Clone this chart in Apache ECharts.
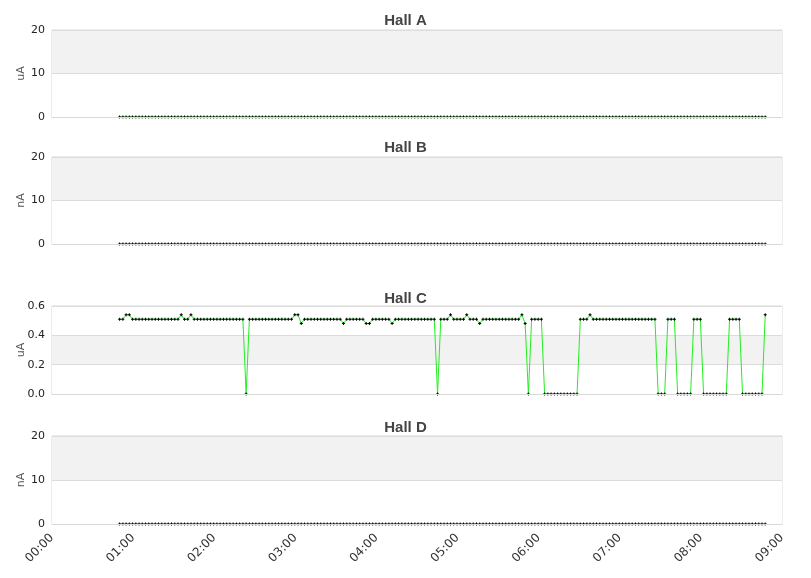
<!DOCTYPE html>
<html><head><meta charset="utf-8">
<script src="https://cdn.jsdelivr.net/npm/echarts@6/dist/echarts.min.js"></script>
<style>html,body{margin:0;padding:0;background:#fff}#c{width:811px;height:578px}</style>
</head><body><div id="c"></div>
<script>
// time sampling (minutes after 00:00)
const startMinute = 50;
const stepMinutes = 2.4;
const xTickLabels = ['00:00','01:00','02:00','03:00','04:00','05:00','06:00','07:00','08:00','09:00'];
const hallNames = ['Hall A','Hall B','Hall C','Hall D'];
const hallUnits = ['uA','nA','uA','nA'];

const hallAValues = [0,0,0,0,0,0,0,0,0,0, 0,0,0,0,0,0,0,0,0,0, 0,0,0,0,0,0,0,0,0,0, 0,0,0,0,0,0,0,0,0,0,
0,0,0,0,0,0,0,0,0,0, 0,0,0,0,0,0,0,0,0,0, 0,0,0,0,0,0,0,0,0,0, 0,0,0,0,0,0,0,0,0,0,
0,0,0,0,0,0,0,0,0,0, 0,0,0,0,0,0,0,0,0,0, 0,0,0,0,0,0,0,0,0,0, 0,0,0,0,0,0,0,0,0,0,
0,0,0,0,0,0,0,0,0,0, 0,0,0,0,0,0,0,0,0,0, 0,0,0,0,0,0,0,0,0,0, 0,0,0,0,0,0,0,0,0,0,
0,0,0,0,0,0,0,0,0,0, 0,0,0,0,0,0,0,0,0,0, 0,0,0,0,0,0,0,0,0,0, 0,0,0,0,0,0,0,0,0,0];
const hallBValues = [0,0,0,0,0,0,0,0,0,0, 0,0,0,0,0,0,0,0,0,0, 0,0,0,0,0,0,0,0,0,0, 0,0,0,0,0,0,0,0,0,0,
0,0,0,0,0,0,0,0,0,0, 0,0,0,0,0,0,0,0,0,0, 0,0,0,0,0,0,0,0,0,0, 0,0,0,0,0,0,0,0,0,0,
0,0,0,0,0,0,0,0,0,0, 0,0,0,0,0,0,0,0,0,0, 0,0,0,0,0,0,0,0,0,0, 0,0,0,0,0,0,0,0,0,0,
0,0,0,0,0,0,0,0,0,0, 0,0,0,0,0,0,0,0,0,0, 0,0,0,0,0,0,0,0,0,0, 0,0,0,0,0,0,0,0,0,0,
0,0,0,0,0,0,0,0,0,0, 0,0,0,0,0,0,0,0,0,0, 0,0,0,0,0,0,0,0,0,0, 0,0,0,0,0,0,0,0,0,0];
const hallCValues = [
0.51,0.51,0.54,0.54,0.51,0.51,0.51,0.51,0.51,0.51,
0.51,0.51,0.51,0.51,0.51,0.51,0.51,0.51,0.51,0.54,
0.51,0.51,0.54,0.51,0.51,0.51,0.51,0.51,0.51,0.51,
0.51,0.51,0.51,0.51,0.51,0.51,0.51,0.51,0.51,0,
0.51,0.51,0.51,0.51,0.51,0.51,0.51,0.51,0.51,0.51,
0.51,0.51,0.51,0.51,0.54,0.54,0.48,0.51,0.51,0.51,
0.51,0.51,0.51,0.51,0.51,0.51,0.51,0.51,0.51,0.48,
0.51,0.51,0.51,0.51,0.51,0.51,0.48,0.48,0.51,0.51,
0.51,0.51,0.51,0.51,0.48,0.51,0.51,0.51,0.51,0.51,
0.51,0.51,0.51,0.51,0.51,0.51,0.51,0.51,0,0.51,
0.51,0.51,0.54,0.51,0.51,0.51,0.51,0.54,0.51,0.51,
0.51,0.48,0.51,0.51,0.51,0.51,0.51,0.51,0.51,0.51,
0.51,0.51,0.51,0.51,0.54,0.48,0,0.51,0.51,0.51,
0.51,0,0,0,0,0,0,0,0,0,
0,0,0.51,0.51,0.51,0.54,0.51,0.51,0.51,0.51,
0.51,0.51,0.51,0.51,0.51,0.51,0.51,0.51,0.51,0.51,
0.51,0.51,0.51,0.51,0.51,0.51,0,0,0,0.51,
0.51,0.51,0,0,0,0,0,0.51,0.51,0.51,
0,0,0,0,0,0,0,0,0.51,0.51,
0.51,0.51,0,0,0,0,0,0,0,0.54];
const hallDValues = [0,0,0,0,0,0,0,0,0,0, 0,0,0,0,0,0,0,0,0,0, 0,0,0,0,0,0,0,0,0,0, 0,0,0,0,0,0,0,0,0,0,
0,0,0,0,0,0,0,0,0,0, 0,0,0,0,0,0,0,0,0,0, 0,0,0,0,0,0,0,0,0,0, 0,0,0,0,0,0,0,0,0,0,
0,0,0,0,0,0,0,0,0,0, 0,0,0,0,0,0,0,0,0,0, 0,0,0,0,0,0,0,0,0,0, 0,0,0,0,0,0,0,0,0,0,
0,0,0,0,0,0,0,0,0,0, 0,0,0,0,0,0,0,0,0,0, 0,0,0,0,0,0,0,0,0,0, 0,0,0,0,0,0,0,0,0,0,
0,0,0,0,0,0,0,0,0,0, 0,0,0,0,0,0,0,0,0,0, 0,0,0,0,0,0,0,0,0,0, 0,0,0,0,0,0,0,0,0,0];

const yMax = [20, 20, 0.6, 20];
const yInterval = [10, 10, 0.2, 10];
const hallValues = [hallAValues, hallBValues, hallCValues, hallDValues];

const gridTops = [30, 157, 306, 436];
const gridHeights = [87, 87, 88, 88];
const titleTops = [8, 135, 286, 415];

const chart = echarts.init(document.getElementById('c'), null, {renderer: 'canvas'});
const plus = 'path://M1,0H2V1H3V2H2V3H1V2H0V1H1Z';

const option = {
  animation: false,
  backgroundColor: '#fff',
  title: hallNames.map((n, i) => ({
    text: n, left: 'center', top: titleTops[i],
    textStyle: {fontFamily: 'Liberation Sans', fontSize: 15, fontWeight: 'bold', color: '#444'}
  })),
  grid: gridTops.map((t, i) => ({
    left: 52, right: 29, top: t, height: gridHeights[i],
    show: true, borderColor: '#d9d9d9', borderWidth: 1, backgroundColor: 'transparent'
  })),
  xAxis: hallNames.map((n, i) => ({
    type: 'value', gridIndex: i, min: 0, max: 540, interval: 60, z: 3,
    axisLine: {show: true, lineStyle: {color: '#d9d9d9', width: 1}},
    axisTick: {show: false},
    splitLine: {show: false},
    axisLabel: {
      show: i === 3, rotate: 45, fontFamily: 'DejaVu Sans', fontSize: 12, color: '#333', margin: 12,
      formatter: v => xTickLabels[Math.round(v / 60)]
    }
  })),
  yAxis: hallNames.map((n, i) => ({
    type: 'value', gridIndex: i, min: 0, max: yMax[i], interval: yInterval[i],
    name: hallUnits[i], nameLocation: 'middle', nameGap: 25, nameRotate: 90, nameMoveOverlap: false,
    nameTextStyle: {fontFamily: 'DejaVu Sans', fontSize: 11, color: '#555'},
    axisLine: {show: false}, axisTick: {show: false},
    axisLabel: {fontFamily: 'DejaVu Sans', fontSize: 11, color: '#222', margin: 7,
      formatter: v => i === 2 ? v.toFixed(1) : String(v)},
    splitLine: {show: true, lineStyle: {color: '#dcdcdc', width: 1}},
    splitArea: {show: true, areaStyle: {color: ['#ffffff', '#f2f2f2']}}
  })),
  series: hallValues.map((vals, i) => ({
    type: 'line', xAxisIndex: i, yAxisIndex: i, z: 2,
    data: vals.map((v, k) => [startMinute + stepMinutes * k, v]),
    symbol: plus, symbolSize: 3, showAllSymbol: true,
    itemStyle: {color: '#000'},
    lineStyle: {color: '#22ee22', width: 1}
  }))
};
chart.setOption(option);
</script>
</body></html>
